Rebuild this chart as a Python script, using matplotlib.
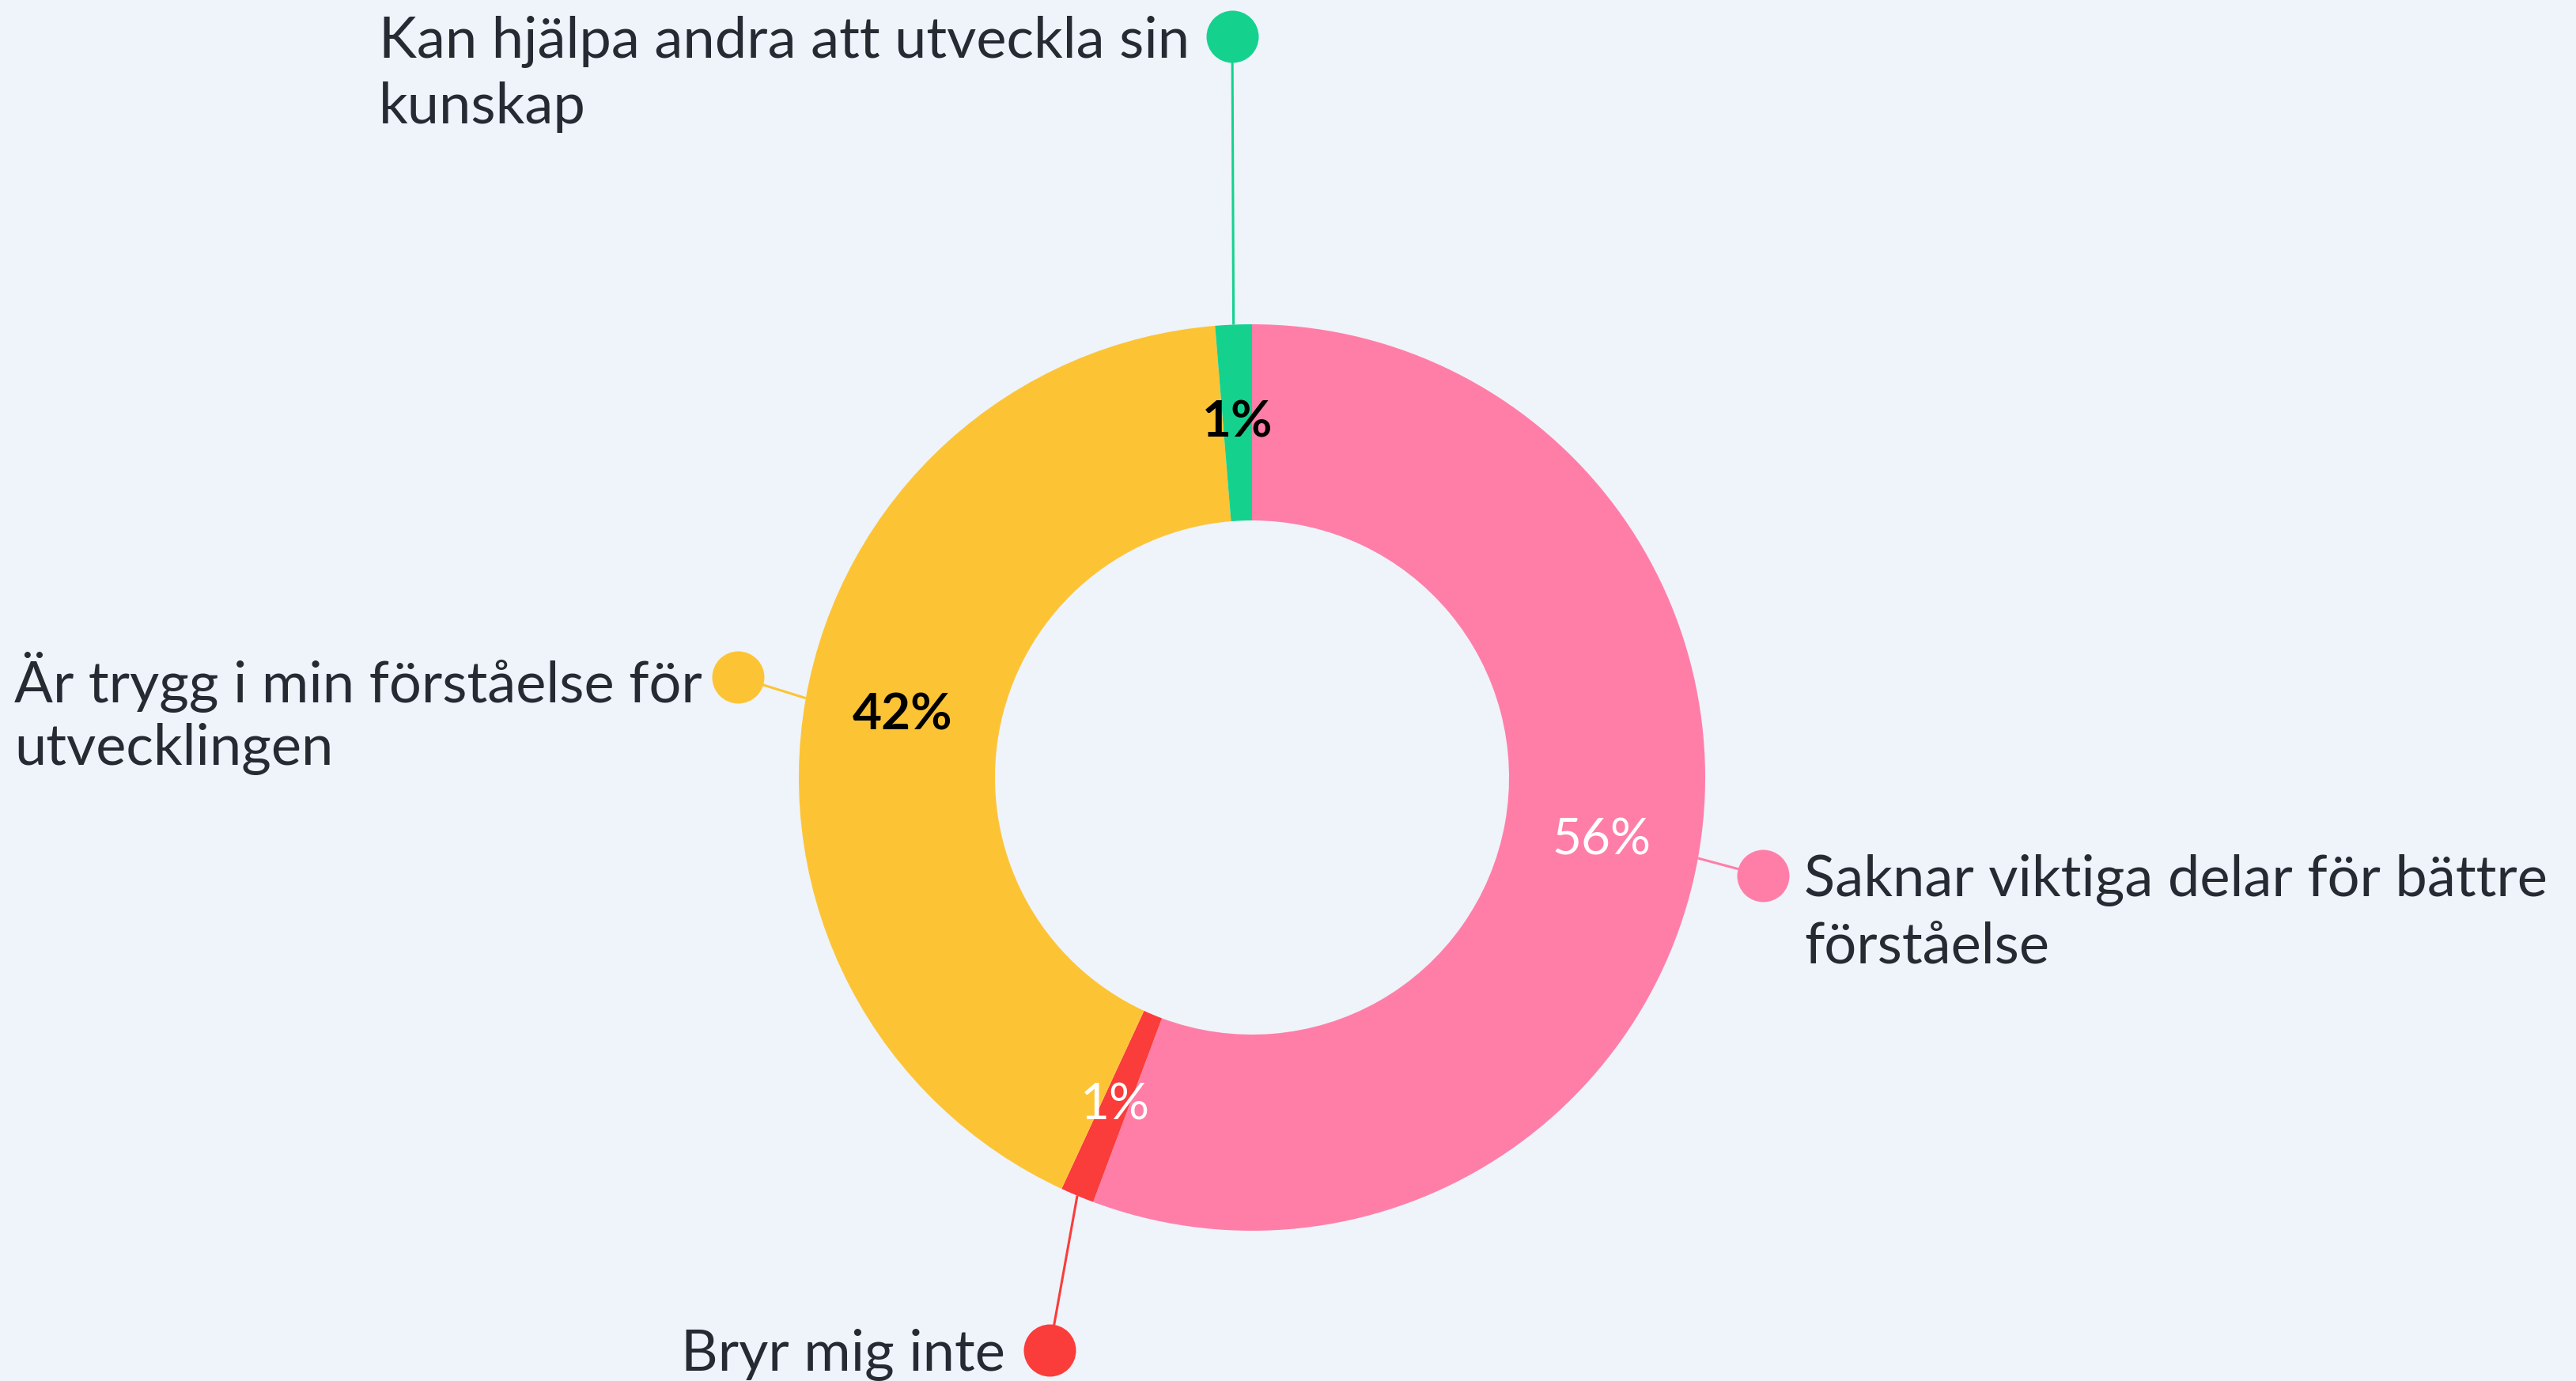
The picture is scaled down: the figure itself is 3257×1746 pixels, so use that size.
import matplotlib
matplotlib.use("Agg")
import matplotlib.pyplot as plt
import numpy as np

# ---- data ----
categories = [
    "Saknar viktiga delar för bättre\nförståelse",
    "Bryr mig inte",
    "Är trygg i min förståelse för\nutvecklingen",
    "Kan hjälpa andra att utveckla sin\nkunskap",
]
values = [55.7, 1.2, 41.8, 1.3]
pct_labels = ["56%", "1%", "42%", "1%"]

# ---- style ----
colors = ["#FF7EA7", "#FA3C3A", "#FCC435", "#14D28E"]
pct_colors = ["white", "white", "black", "black"]
pct_weights = ["normal", "normal", "bold", "bold"]
bg = "#EFF3FA"
text_color = "#262A33"

W, H = 3257, 1746
fig = plt.figure(figsize=(W / 100, H / 100), dpi=100, facecolor=bg)
ax = fig.add_axes([0, 0, 1, 1])
ax.set_facecolor(bg)

cx, cy_down = 1583, 983
cy = H - cy_down
R_out, R_in = 573, 325

wedges, _ = ax.pie(values, colors=colors, startangle=90, counterclock=False,
                   radius=R_out, center=(cx, cy),
                   wedgeprops=dict(width=R_out - R_in, edgecolor="none", linewidth=0))
ax.set_xlim(0, W)
ax.set_ylim(0, H)
ax.set_aspect("auto")
ax.axis("off")

# layout for external labels: dot positions (pixel, y down) and text anchor
dot_pos = [(2229, 1107), (1327, 1707), (933, 856), (1558, 46)]
text_ha = ["left", "right", "right", "right"]
text_x = [2281, 1271, 888, 1504]
line_h = 84
font = "Lato"
fs_label = 52
fs_pct = 46

renderer = fig.canvas.get_renderer()
total = float(sum(values))
cum = 0.0
for i, (v, w) in enumerate(zip(values, wedges)):
    mid = (cum + v / 2) / total * 360.0  # clockwise from top
    cum += v
    th = np.deg2rad(mid)
    r_mid = (R_out + R_in) / 2
    px = cx + r_mid * np.sin(th)
    py = cy + r_mid * np.cos(th)
    ax.text(px, py, pct_labels[i], color=pct_colors[i], fontsize=fs_pct,
            fontweight=pct_weights[i], ha="center", va="center", family=font)
    # leader line
    ex = cx + R_out * np.sin(th)
    ey = cy + R_out * np.cos(th)
    dx, dy = dot_pos[i][0], H - dot_pos[i][1]
    ax.plot([ex, dx], [ey, dy], color=colors[i], lw=2.2, solid_capstyle="butt", zorder=3)
    ax.scatter([dx], [dy], s=(33 * 2 * 0.72) ** 2, color=colors[i], zorder=4, linewidths=0)
    # text: block left-aligned internally, anchored left or right
    lines = categories[i].split("\n")
    objs = [ax.text(0, dy - j * line_h, ln, color=text_color, fontsize=fs_label,
                    ha="left", va="center_baseline", family=font)
            for j, ln in enumerate(lines)]
    widths = [t.get_window_extent(renderer).width for t in objs]
    left = text_x[i] if text_ha[i] == "left" else text_x[i] - max(widths)
    for t in objs:
        t.set_x(left)

fig.savefig("out.png", dpi=100, facecolor=bg)
